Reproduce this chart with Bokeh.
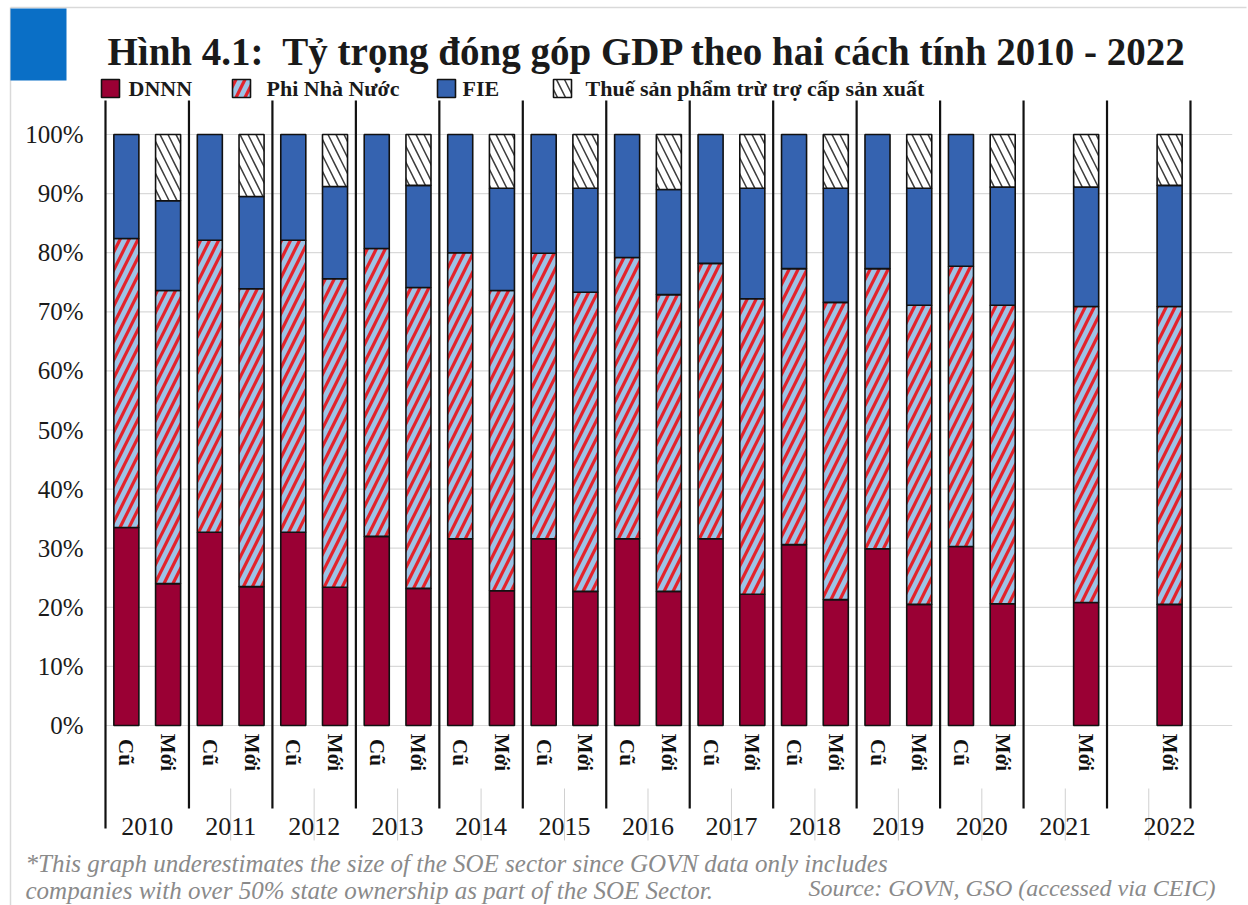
import math
from bokeh.plotting import figure
from bokeh.models import Range1d
from bokeh.core.properties import value
from bokeh.embed import file_html
from bokeh.resources import INLINE

# ---------------- data ----------------
years = ["2010", "2011", "2012", "2013", "2014", "2015", "2016",
         "2017", "2018", "2019", "2020", "2021", "2022"]
methods = ["Cũ", "Mới"]
series_names = ["DNNN", "Phi Nhà Nước", "FIE", "Thuế sản phẩm trừ trợ cấp sản xuất"]

# old method (Cũ), shares in % ; None = not published
cu_dnnn = [33.5, 32.7, 32.7, 32.0, 31.6, 31.6, 31.6, 31.6, 30.6, 29.9, 30.3, None, None]
cu_phi = [48.9, 49.4, 49.4, 48.7, 48.4, 48.3, 47.6, 46.6, 46.7, 47.4, 47.4, None, None]
cu_fie = [17.6, 17.9, 17.9, 19.3, 20.0, 20.1, 20.8, 21.8, 22.7, 22.7, 22.3, None, None]
cu_tax = [0, 0, 0, 0, 0, 0, 0, 0, 0, 0, 0, None, None]

# new method (Mới), shares in %
moi_dnnn = [24.0, 23.5, 23.4, 23.2, 22.8, 22.7, 22.7, 22.2, 21.3, 20.5, 20.6, 20.8, 20.5]
moi_phi = [49.6, 50.4, 52.2, 50.9, 50.8, 50.6, 50.2, 50.0, 50.3, 50.6, 50.5, 50.1, 50.4]
moi_fie = [15.2, 15.6, 15.6, 17.3, 17.3, 17.6, 17.8, 18.7, 19.3, 19.8, 20.0, 20.2, 20.5]
moi_tax = [11.2, 10.5, 8.8, 8.6, 9.1, 9.1, 9.3, 9.1, 9.1, 9.1, 8.9, 8.9, 8.6]

y_ticks = [0, 10, 20, 30, 40, 50, 60, 70, 80, 90, 100]

title_text = "Hình 4.1:\u00a0 Tỷ trọng đóng góp GDP theo hai cách tính 2010 - 2022"
note_1 = "*This graph underestimates the size of the SOE sector since GOVN data only includes"
note_2 = "companies with over 50% state ownership as part of the SOE Sector."
source_text = "Source: GOVN, GSO (accessed via CEIC)"

# ---------------- styles ----------------
SERIF = value("Liberation Serif")
styles = [
    dict(fill_color="#9a0034"),
    dict(fill_color="#9dc3e6", hatch_pattern="/", hatch_color="#e3232c",
         hatch_scale=18, hatch_weight=3.2),
    dict(fill_color="#3563b0"),
    dict(fill_color="#ffffff", hatch_pattern="\\", hatch_color="#3c3c3c",
         hatch_scale=16, hatch_weight=1.5),
]

# ---------------- geometry helpers (page pixels -> data) ----------------
W, H = 1248, 905
PX_U = 41.73          # pixels per category unit
PX_V = 5.91           # pixels per percent
X0, Y0 = 105, 725     # page pixel of (0, 0)


def ux(px):
    return (px - X0) / PX_U


def vy(py):
    return (Y0 - py) / PX_V


p = figure(width=W, height=H, output_backend="svg", toolbar_location=None,
           x_range=Range1d(ux(0), ux(W)), y_range=Range1d(vy(H), vy(0)),
           x_axis_location=None, y_axis_location=None, min_border=0,
           background_fill_color="white", border_fill_color="white")
p.grid.visible = False
p.outline_line_color = None

# faint page frame
p.segment(x0=[ux(10), ux(10)], x1=[ux(10), ux(1246)], y0=[vy(7), vy(7)],
          y1=[vy(905), vy(7)], line_color="#d9d9d9", line_width=1.5)

n_units = 2 * len(years) + 1   # gridlines extend one unit past the last group

# gridlines
p.segment(x0=[0] * len(y_ticks), x1=[n_units] * len(y_ticks), y0=y_ticks, y1=y_ticks,
          line_color="#d9d9d9", line_width=1.2)

# y tick labels
p.text(x=[ux(83)] * len(y_ticks), y=y_ticks, text=[f"{t}%" for t in y_ticks],
       text_font=SERIF, text_font_size="25px", text_align="right",
       text_baseline="middle", text_color="#1a1a1a")

# bars
cu = [cu_dnnn, cu_phi, cu_fie, cu_tax]
moi = [moi_dnnn, moi_phi, moi_fie, moi_tax]
for j, data in enumerate([cu, moi]):
    xs = []
    seg = [[] for _ in range(4)]
    for i in range(len(years)):
        if data[0][i] is None:
            continue
        xs.append(2 * i + j + 0.5)
        for k in range(4):
            seg[k].append(data[k][i])
    base = [0.0] * len(xs)
    for k in range(4):
        tops = [b + v for b, v in zip(base, seg[k])]
        keep = [n for n in range(len(xs)) if seg[k][n] > 0]
        if keep:
            p.vbar(x=[xs[n] for n in keep], width=0.6,
                   bottom=[base[n] for n in keep], top=[tops[n] for n in keep],
                   line_color="#111111", line_width=1.6, **styles[k])
        base = tops

# group dividers
div_x = [2 * k for k in range(len(years) + 1)]
p.segment(x0=div_x, x1=div_x, y0=[vy(100)] * len(div_x),
          y1=[vy(828)] + [vy(808)] * (len(div_x) - 1),
          line_color="#111111", line_width=2.2)

# faint tick marks at group centres
mid_x = [2 * k + 1 for k in range(1, len(years))]
p.segment(x0=mid_x, x1=mid_x, y0=[vy(788)] * len(mid_x), y1=[vy(840)] * len(mid_x),
          line_color="#d0d0d0", line_width=1)

# method labels (rotated)
lab_x, lab_t = [], []
for i in range(len(years)):
    for j, data in enumerate([cu, moi]):
        if data[0][i] is not None:
            lab_x.append(2 * i + j + 0.5)
            lab_t.append(methods[j])
p.text(x=lab_x, y=[vy(752)] * len(lab_x), text=lab_t, angle=-math.pi / 2,
       text_font=SERIF, text_font_size="21px", text_font_style="bold",
       text_align="center", text_baseline="middle", text_color="#111111")

# year labels
year_x = [2 * k + 1 for k in range(len(years))]
year_x[-1] += 0.5
p.text(x=year_x, y=[vy(826)] * len(years), text=years,
       text_font=SERIF, text_font_size="26px", text_align="center",
       text_baseline="middle", text_color="#1a1a1a")

# blue corner block
p.quad(left=[ux(10)], right=[ux(66)], top=[vy(8)], bottom=[vy(80)],
       fill_color="#0a6fc6", line_color=None)

# title
p.text(x=[ux(107)], y=[vy(51)], text=[title_text], text_font=SERIF,
       text_font_size="39px", text_font_style="bold", text_align="left",
       text_baseline="alphabetic", text_color="#1a1a1a")

# legend
leg_box = [101, 232, 437, 553]
leg_txt = [128, 266, 462, 585]
for k in range(4):
    p.quad(left=[ux(leg_box[k])], right=[ux(leg_box[k] + 18)],
           top=[vy(79)], bottom=[vy(97)], line_color="#111111", line_width=1.6,
           **styles[k])
p.text(x=[ux(v) for v in leg_txt], y=[vy(88)] * 4, text=series_names,
       text_font=SERIF, text_font_size="22px", text_font_style="bold",
       text_align="left", text_baseline="middle", text_color="#1a1a1a")

# footnotes
p.text(x=[ux(25), ux(25)], y=[vy(863), vy(890)], text=[note_1, note_2],
       text_font=SERIF, text_font_size="25px", text_font_style="italic",
       text_align="left", text_baseline="alphabetic", text_color="#8a8a8a")
p.text(x=[ux(808)], y=[vy(887)], text=[source_text],
       text_font=SERIF, text_font_size="24px", text_font_style="italic",
       text_align="left", text_baseline="alphabetic", text_color="#8a8a8a")

open("out.html", "w").write(file_html(p, INLINE))
